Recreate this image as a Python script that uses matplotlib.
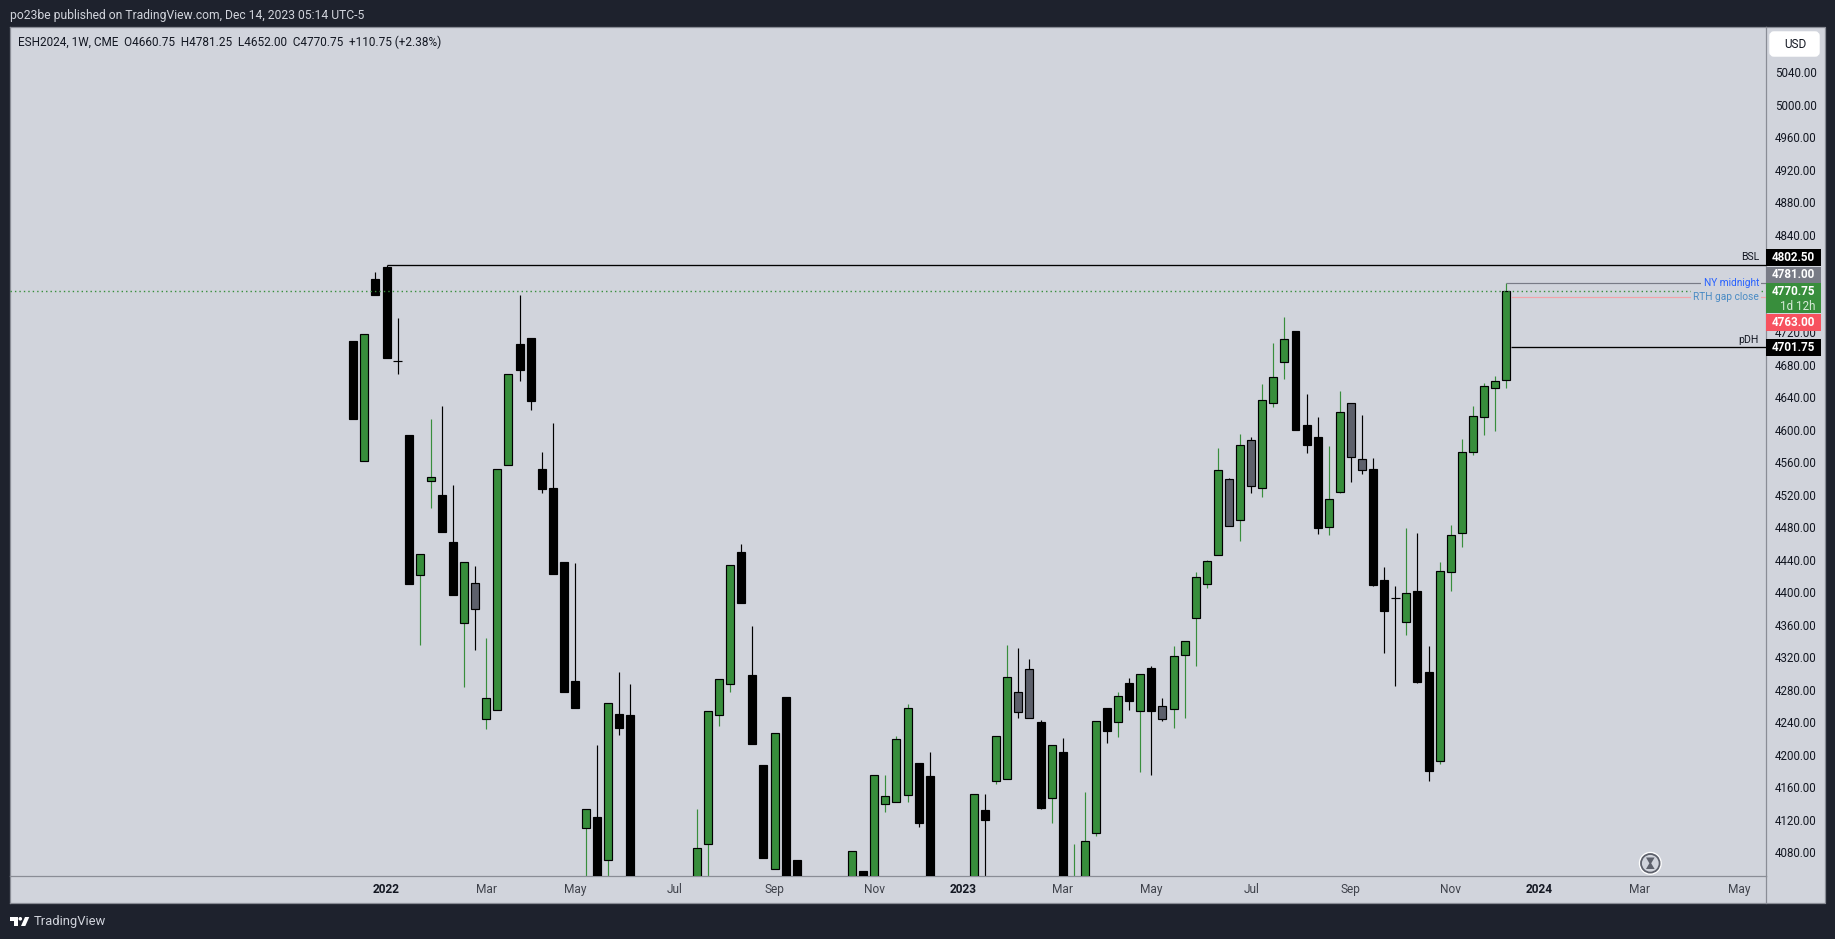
import numpy as np
import matplotlib
matplotlib.use('Agg')
import matplotlib.pyplot as plt
from matplotlib.patches import Rectangle, Circle, Polygon, FancyBboxPatch

# Weekly candles, one row of ten per line. None = week is off the bottom of the chart
opens = [4709.25, 4561, 4785.5, 4800.5, 4685, 4593.75, 4421.25, 4537.25, 4519.75, 4462.25,
         4362.75, 4411.5, 4244.5, 4254.5, 4557, 4705.75, 4713, 4551.75, 4528.5, 4437.25,
         4290.75, 4110.25, 4123.5, 4071, 4250.25, 4249, None, None, None, None,
         None, 4000, 4090.5, 4249.5, 4287.5, 4449.5, 4298.25, 4187.5, 4059.75, 4271,
         4070.5, None, None, None, None, 3985, 4057, 3990, 4139.75, 4142.25,
         4151, 4190, 4174, None, None, None, 3990, 4132, 4168, 4170.5,
         4277, 4305.25, 4240.25, 4147.25, 4203.5, 3990, 3960, 4104, 4257.5, 4240.75,
         4288.5, 4254.25, 4306.75, 4259.5, 4256.75, 4323.25, 4368.75, 4410.5, 4446.25, 4539,
         4489.5, 4587, 4528.75, 4633.5, 4683.75, 4721.5, 4606, 4591, 4480.75, 4523.75,
         4632.5, 4563.5, 4551.75, 4415, 4393, 4363.75, 4401.5, 4301.5, 4192.75, 4425.5,
         4473.5, 4573, 4616.25, 4651.75, 4660.75]
highs = [4709.25, 4718.5, 4794.25, 4802.5, 4737.75, 4593.75, 4447.25, 4613.5, 4629.5, 4532,
         4437.25, 4432.75, 4343.5, 4551.25, 4668.5, 4765.75, 4713, 4572.5, 4608.25, 4437.25,
         4436.25, 4132.75, 4212, 4263.25, 4302, 4287, None, None, None, None,
         None, 4133.25, 4254, 4293, 4433.5, 4459.5, 4358.5, 4187.5, 4226.5, 4271,
         4070.5, None, None, None, None, 4081, 4057, 4174.75, 4175, 4223,
         4262.5, 4190, 4203.5, None, None, None, 4151.25, 4151.75, 4222.75, 4335,
         4331.5, 4318, 4242.75, 4211.5, 4220.5, 4090.25, 4154.25, 4241.25, 4257.5, 4277.25,
         4294.5, 4299, 4309.25, 4269.5, 4334, 4339.5, 4425, 4439.25, 4577.5, 4540.5,
         4594.75, 4591, 4656.25, 4706.75, 4738.75, 4721.5, 4644, 4615.75, 4580, 4647.75,
         4632.5, 4618.25, 4565.25, 4431, 4407.75, 4479, 4473, 4334, 4437.25, 4482.75,
         4588.75, 4629.25, 4657.5, 4666.25, 4781.25]
lows = [4613.5, 4561, 4765.75, 4688.5, 4669, 4410.5, 4335.25, 4504, 4474.5, 4397,
        4283.5, 4328.5, 4231.25, 4254.5, 4557, 4660, 4624.25, 4522.25, 4422.25, 4277.25,
        4257.5, 4000, 3970, 4020, 4224.25, 3900, None, None, None, None,
        None, 4000, 4030, 4235.5, 4277.25, 4386.75, 4213.25, 4073, 4059.75, 3950,
        3960, None, None, None, None, 3985, 3980, 3990, 4129.5, 4142.25,
        4142, 4111, 3900, None, None, None, 3990, 3960, 4164, 4170.5,
        4245.25, 4245.75, 4133.25, 4116, 3960, 3990, 3960, 4100.5, 4214.5, 4222,
        4255, 4178.75, 4175, 4241.5, 4233, 4245.25, 4309.25, 4405.25, 4446.25, 4482,
        4463, 4522.25, 4517.25, 4628, 4662.5, 4599.75, 4571.5, 4471.75, 4470.5, 4522.25,
        4535.75, 4545.5, 4407.75, 4325.25, 4284.75, 4347.5, 4288.5, 4167.75, 4188.75, 4401.5,
        4455.75, 4569, 4593.5, 4598.5, 4652]
closes = [4613.5, 4718.5, 4765.75, 4688.5, 4684, 4410.5, 4447.25, 4542, 4474.5, 4397,
          4437.25, 4379.75, 4269.5, 4551.25, 4668.5, 4673.5, 4635.75, 4527, 4422.25, 4277.25,
          4257.5, 4132.75, 3990, 4263.25, 4233, 3900, None, None, None, None,
          None, 4084.75, 4254, 4293, 4433.5, 4386.75, 4213.25, 4073, 4226.5, 3950,
          3960, None, None, None, None, 4081, 3980, 4174.75, 4148.75, 4219,
          4257.25, 4116, 3900, None, None, None, 4151.25, 4119.75, 4222.75, 4295.25,
          4253, 4245.75, 4134.5, 4211.5, 3960, 4040, 4093.5, 4241.25, 4229.75, 4272,
          4266.5, 4299, 4254.25, 4244.5, 4321.25, 4339.5, 4418.5, 4438, 4550, 4482,
          4580.75, 4531.25, 4636.25, 4664.5, 4711.25, 4599.75, 4581.25, 4479, 4514.5, 4621.5,
          4567, 4551, 4409, 4377, 4392, 4398.75, 4289.5, 4180, 4425.75, 4470,
          4572.25, 4616.5, 4653.5, 4659.5, 4770.75]
# weeks the chart paints gray
gray_weeks = [11, 60, 61, 73, 79, 81, 90, 91]

date_ticks = [3, 12, 20, 29, 38, 47, 55, 64, 72, 81, 90, 99, 107, 116, 125]
date_labels = ['2022', 'Mar', 'May', 'Jul', 'Sep', 'Nov', '2023', 'Mar', 'May', 'Jul', 'Sep', 'Nov', '2024', 'Mar', 'May']
price_ticks = list(range(4080, 5041, 40))
# these two sit fully behind the price tags
hidden_ticks = [4760, 4800]

bsl = 4802.5
pdh = 4701.75
ny_midnight = 4781.0
gap_close = 4763.0
last_close = 4770.75
bsl_week = 3
last_week = 104

DARK = '#1E222D'
PANEL = '#D1D4DC'
INK = '#131722'
GREEN = '#388E3C'
GRAY = '#5D606B'
EDGE = '#8A8D96'
RED = '#F7525F'

W, H = 1835, 939
plt.rcParams['font.family'] = ['Roboto', 'DejaVu Sans']

fig = plt.figure(figsize=(W / 100, H / 100), dpi=100, facecolor=DARK)

# scale background behind both axes
fig.patches.append(Rectangle((10 / W, 1 - 903 / H), (1824.5 - 10) / W, (903 - 27) / H,
                             transform=fig.transFigure, figure=fig, facecolor=PANEL, edgecolor='none', zorder=-1))

# main price panel, pixel box 10..1765 x 27..876
ax = fig.add_axes([10 / W, 1 - 876 / H, (1765.5 - 10) / W, (876 - 27) / H], facecolor=PANEL)
ax.set_xlim(-30.97, 127.4)
ax.set_ylim(4050.8, 5095.75)

o = np.array(opens, dtype=float)
h = np.array(highs, dtype=float)
l = np.array(lows, dtype=float)
c = np.array(closes, dtype=float)
x = np.arange(len(o))
shown = ~np.isnan(o)
up = shown & (c >= o)
down = shown & (c < o)
gray = np.isin(x, gray_weeks)
doji = down & (np.abs(c - o) < 1.5)

ax.vlines(x[up], l[up], h[up], colors=GREEN, linewidth=0.85, zorder=2)
ax.vlines(x[down], l[down], h[down], colors='black', linewidth=0.85, zorder=2)

ax.bar(x[up], (c - o)[up], bottom=o[up], width=0.72, facecolor=GREEN, edgecolor='black', linewidth=0.85, zorder=3)
black_down = down & ~gray & ~doji
ax.bar(x[black_down], (c - o)[black_down], bottom=o[black_down], width=0.72, facecolor='black', edgecolor='black', linewidth=0.85, zorder=3)
gray_down = down & gray
ax.bar(x[gray_down], (c - o)[gray_down], bottom=o[gray_down], width=0.72, facecolor=GRAY, edgecolor='black', linewidth=0.85, zorder=3)
ax.hlines(((o + c) / 2)[doji], x[doji] - 0.41, x[doji] + 0.41, colors='black', linewidth=0.85, zorder=3)

# level lines
ax.hlines(bsl, bsl_week, 127.4, colors='black', linewidth=0.95, zorder=4)
ax.hlines(pdh, last_week + 0.4, 127.4, colors='black', linewidth=0.95, zorder=4)
ax.hlines(ny_midnight, last_week, 127.4, colors='#787B86', linewidth=0.85, zorder=4)
ax.hlines(gap_close, last_week + 0.4, 127.4, colors='#F2A3AA', linewidth=0.85, zorder=4)
ax.axhline(last_close, color=GREEN, linewidth=1.0, linestyle=(0, (1, 2.2)), zorder=5)

ax.set_xticks(date_ticks)
ax.set_xticklabels(date_labels, fontsize=8.6, color='#3F424B')
for t, name in zip(ax.get_xticklabels(), date_labels):
    if name.isdigit():
        t.set_fontweight('bold')
        t.set_color(INK)
ax.set_yticks(price_ticks)
ax.set_yticklabels(['' if p in hidden_ticks else '%.2f' % p for p in price_ticks], fontsize=8.3, color=INK)
ax.yaxis.tick_right()
ax.tick_params(axis='x', length=0, pad=5)
ax.tick_params(axis='y', length=0, pad=7)
for s in ax.spines.values():
    s.set_color(EDGE)
    s.set_linewidth(0.9)

# overlay in pixel coordinates for the chrome around the chart
ov = fig.add_axes([0, 0, 1, 1], facecolor='none')
ov.set_xlim(0, W)
ov.set_ylim(H, 0)
ov.axis('off')

# outer edge of the scales
ov.plot([1765.5, 1824.5, 1824.5, 10], [27, 27, 903, 903], color=EDGE, linewidth=0.9, zorder=1)
ov.plot([10, 10], [876, 903], color=EDGE, linewidth=0.9, zorder=1)
ov.plot([1765.5, 1765.5], [876, 903], color=EDGE, linewidth=0.9, zorder=1)

ov.text(10, 15, 'po23be published on TradingView.com, Dec 14, 2023 05:14 UTC-5', color=PANEL, fontsize=8.7, va='center', ha='left')
ov.text(18, 42, 'ESH2024, 1W, CME  O4660.75  H4781.25  L4652.00  C4770.75  +110.75 (+2.38%)', color=INK, fontsize=8.5, va='center', ha='left')

# USD button
ov.add_patch(FancyBboxPatch((1771, 33), 47, 22, boxstyle='round,pad=0,rounding_size=3', mutation_aspect=1,
                            facecolor='white', edgecolor='white', linewidth=2.5, zorder=3))
ov.text(1795, 44.5, 'USD', color=INK, fontsize=8.5, ha='center', va='center', zorder=4)

# price tags on the scale
tags = [(249.3, 265.7, 'black', '4802.50'), (266.7, 282.7, '#787B86', '4781.00'),
        (283, 313, GREEN, '4770.75'), (314, 330.7, RED, '4763.00'), (339.3, 355.7, 'black', '4701.75')]
for top, bot, col, txt in tags:
    ov.add_patch(Rectangle((1765.5, top), 55.5, bot - top, facecolor=col, edgecolor='none', zorder=5))
    yc = (top + bot) / 2
    if txt == '4770.75':
        yc = top + 8.5
    ov.text(1815, yc, txt, color='white', fontsize=8.4, fontweight='bold', ha='right', va='center', zorder=6)
ov.text(1815, 306, '1d 12h', color='#D8EBD9', fontsize=8.4, ha='right', va='center', zorder=6)

# labels at the right end of the level lines
ov.text(1759, 257.5, 'BSL', color=INK, fontsize=7.6, ha='right', va='center', zorder=6)
ov.text(1759, 340, 'pDH', color=INK, fontsize=7.6, ha='right', va='center', zorder=6)
ov.text(1759, 283.5, 'NY midnight', color='#2962FF', fontsize=7.3, ha='right', va='center', zorder=6,
        bbox=dict(facecolor=PANEL, edgecolor='none', pad=1.5))
ov.text(1759, 297.5, 'RTH gap close', color='#4A8BC4', fontsize=7.3, ha='right', va='center', zorder=6,
        bbox=dict(facecolor=PANEL, edgecolor='none', pad=1.5))

# hourglass badge
ov.add_patch(Circle((1650.3, 863.3), 11.5, facecolor='white', edgecolor='none', zorder=3))
ov.add_patch(Circle((1650.3, 863.3), 9.3, facecolor=PANEL, edgecolor='#5D606B', linewidth=1.3, zorder=4))
ov.add_patch(Polygon([(1646, 857.5), (1654.6, 857.5), (1651.2, 863.3), (1654.6, 869), (1646, 869), (1649.4, 863.3)],
                     facecolor='#5D606B', edgecolor='none', zorder=5))

# logo
ov.add_patch(Polygon([(10, 917), (17.8, 917), (17.8, 926), (13.8, 926), (13.8, 920.5), (10, 920.5)], facecolor='white', edgecolor='none'))
ov.add_patch(Circle((20.3, 918.8), 1.8, facecolor='white', edgecolor='none'))
ov.add_patch(Polygon([(25, 917), (29.3, 917), (25.3, 926), (21, 926)], facecolor='white', edgecolor='none'))
ov.text(33.5, 921.5, 'TradingView', color='#D1D4DC', fontsize=9.4, ha='left', va='center')

fig.savefig('out.png', dpi=100, facecolor=DARK)
